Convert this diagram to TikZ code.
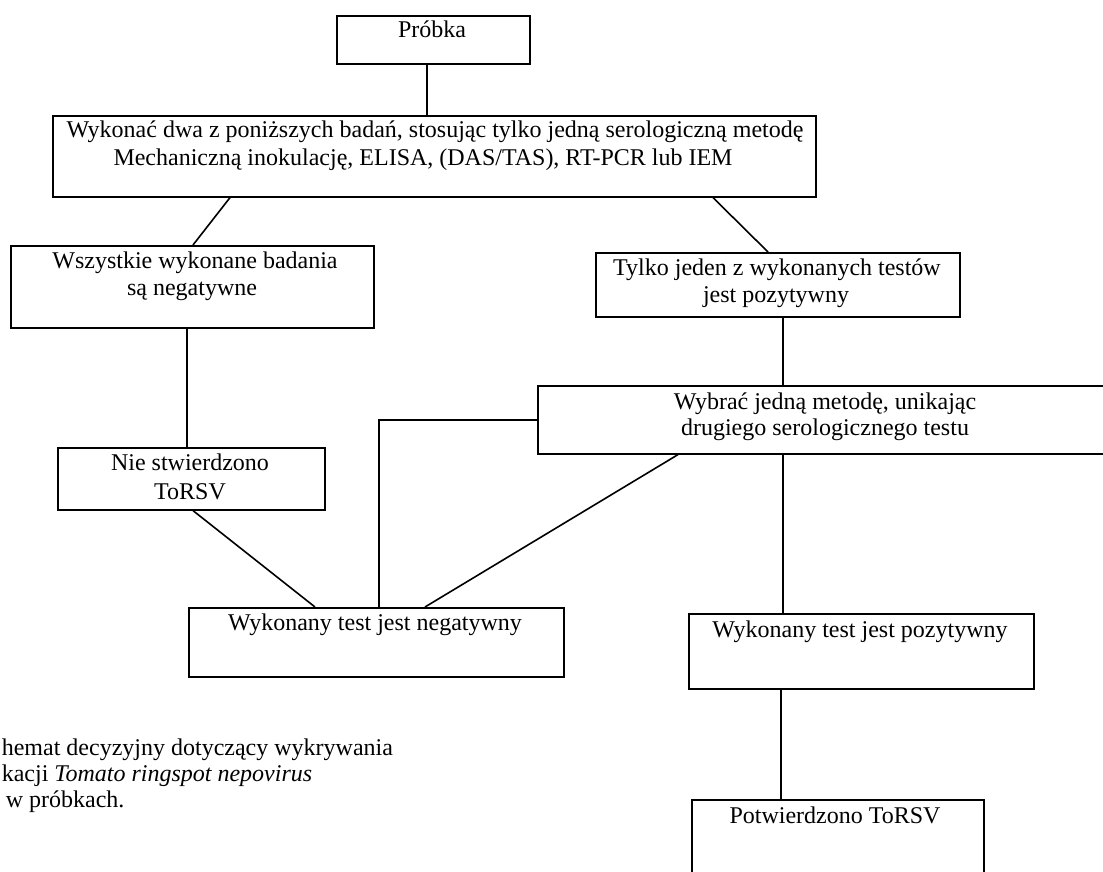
\documentclass[tikz,border=0pt]{standalone}
\usepackage{fontspec}
\setmainfont{Liberation Serif}
\begin{document}
\begin{tikzpicture}[x=0.5pt,y=-0.5pt,line width=0.8pt,
  box/.style={draw,rectangle,inner sep=0pt,anchor=north west},
  txt/.style={inner sep=0pt,anchor=base,font=\fontsize{12}{13.5}\selectfont},
  conn/.style={draw,line width=0.8pt}]
\useasboundingbox (0,0) rectangle (1103,872);
\clip (0,0) rectangle (1103,872);
% boxes
\node[box,minimum width=96.5pt,minimum height=24pt] (probka) at (336,15) {};
\node[box,minimum width=381.5pt,minimum height=40.5pt] (big) at (52,115) {};
\node[box,minimum width=181.5pt,minimum height=41pt] (wsz) at (10,245) {};
\node[box,minimum width=182pt,minimum height=32pt] (tylko) at (595,252) {};
\node[box,minimum width=133.5pt,minimum height=31pt] (nie) at (57,447) {};
\node[box,minimum width=306.5pt,minimum height=34pt] (wyb) at (537,385) {};
\node[box,minimum width=187.5pt,minimum height=34.5pt] (neg) at (188,607) {};
\node[box,minimum width=172.5pt,minimum height=37.5pt] (poz) at (688,613) {};
\node[box,minimum width=146pt,minimum height=50.5pt] (potw) at (691,799) {};
% texts
\node[txt] (tprobka) at (432,38) {Próbka};
\node[txt] (tbig1) at (435,138) {Wykonać dwa z poniższych badań, stosując tylko jedną serologiczną metodę};
\node[txt] (tbig2) at (423,165) {Mechaniczną inokulację, ELISA, (DAS/TAS), RT-PCR lub IEM};
\node[txt] (twsz1) at (195,268) {Wszystkie wykonane badania};
\node[txt] (twsz2) at (192,295) {są negatywne};
\node[txt] (ttyl1) at (777,275) {Tylko jeden z wykonanych testów};
\node[txt] (ttyl2) at (776,302) {jest pozytywny};
\node[txt] (tnie1) at (190,470) {Nie stwierdzono};
\node[txt] (tnie2) at (190,499) {ToRSV};
\node[txt] (twyb1) at (825,409) {Wybrać jedną metodę, unikając};
\node[txt] (twyb2) at (825,435) {drugiego serologicznego testu};
\node[txt] (tneg) at (375,630) {Wykonany test jest negatywny};
\node[txt] (tpoz) at (860,637) {Wykonany test jest pozytywny};
\node[txt] (tpotw) at (835,823) {Potwierdzono ToRSV};
% caption
\node[txt,anchor=base west] (cap1) at (1,755) {hemat decyzyjny dotyczący wykrywania};
\node[txt,anchor=base west] (cap2) at (1,781) {kacji \textit{Tomato ringspot nepovirus}};
\node[txt,anchor=base west] (cap3) at (5,807) {w próbkach.};
% connectors
\draw[conn] (427,0 |- probka.south) -- (427,0 |- big.north);
\draw[conn] (230,0 |- big.south) -- (193,0 |- wsz.north);
\draw[conn] (713,0 |- big.south) -- (768,0 |- tylko.north);
\draw[conn] (187,0 |- wsz.south) -- (187,0 |- nie.north);
\draw[conn] (783,0 |- tylko.south) -- (783,0 |- wyb.north);
\draw[conn] (193,0 |- nie.south) -- (315,0 |- neg.north);
\draw[conn] (wyb.west) -| (379,0 |- neg.north);
\draw[conn] (678,0 |- wyb.south) -- (425,0 |- neg.north);
\draw[conn] (783,0 |- wyb.south) -- (783,0 |- poz.north);
\draw[conn] (781,0 |- poz.south) -- (781,0 |- potw.north);
\end{tikzpicture}
\end{document}
